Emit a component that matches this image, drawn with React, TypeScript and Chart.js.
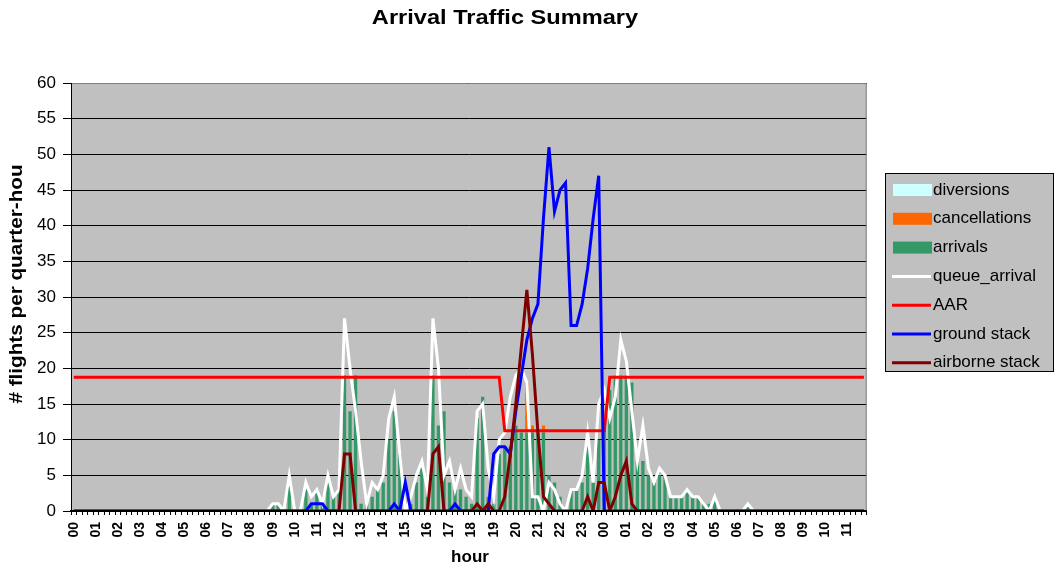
import React, { useEffect, useRef } from 'react';
import { Chart, registerables } from 'chart.js';

Chart.register(...registerables);

const hourLabels = [
  '00', '01', '02', '03', '04', '05', '06', '07', '08', '09', '10', '11',
  '12', '13', '14', '15', '16', '17', '18', '19', '20', '21', '22', '23',
  '00', '01', '02', '03', '04', '05', '06', '07', '08', '09', '10', '11',
];
const quarterLabels = ['00', '15', '30', '45'];
const categories = hourLabels.flatMap((h) => quarterLabels.map((q) => `${h}:${q}`));

const arrivals = [
  0, 0, 0, 0, 0, 0, 0, 0, 0, 0, 0, 0,
  0, 0, 0, 0, 0, 0, 0, 0, 0, 0, 0, 0,
  0, 0, 0, 0, 0, 0, 0, 0, 0, 0, 0, 0,
  1, 1, 0, 4, 0, 0, 3, 1, 3, 1, 4, 2,
  3, 19, 14, 19, 1, 1, 2, 3, 4, 10, 14, 8,
  0, 1, 4, 6, 2, 19, 12, 14, 4, 3, 3, 2,
  1, 13, 16, 2, 1, 8, 9, 9, 12, 11, 11, 11,
  11, 11, 5, 4, 2, 0, 3, 3, 4, 10, 4, 10,
  13, 17, 19, 19, 19, 18, 7, 7, 5, 4, 5, 5,
  2, 2, 2, 3, 2, 2, 1, 1, 2, 0, 0, 0,
  0, 0, 1, 0, 0, 0, 0, 0, 0, 0, 0, 0,
  0, 0, 0, 0, 0, 0, 0, 0, 0, 0, 0, 0,
];

const cancellations = [
  0, 0, 0, 0, 0, 0, 0, 0, 0, 0, 0, 0,
  0, 0, 0, 0, 0, 0, 0, 0, 0, 0, 0, 0,
  0, 0, 0, 0, 0, 0, 0, 0, 0, 0, 0, 0,
  0, 0, 0, 0, 0, 0, 0, 0, 0, 0, 0, 0,
  0, 0, 0, 0, 0, 0, 0, 0, 0, 0, 0, 0,
  0, 0, 0, 0, 0, 0, 0, 0, 0, 0, 0, 0,
  0, 0, 0, 0, 0, 0, 0, 0, 0, 0, 7, 1,
  0, 1, 0, 0, 0, 0, 0, 0, 0, 0, 0, 0,
  0, 0, 0, 0, 0, 0, 0, 0, 0, 0, 0, 0,
  0, 0, 0, 0, 0, 0, 0, 0, 0, 0, 0, 0,
  0, 0, 0, 0, 0, 0, 0, 0, 0, 0, 0, 0,
  0, 0, 0, 0, 0, 0, 0, 0, 0, 0, 0, 0,
];

const diversions = [
  0, 0, 0, 0, 0, 0, 0, 0, 0, 0, 0, 0,
  0, 0, 0, 0, 0, 0, 0, 0, 0, 0, 0, 0,
  0, 0, 0, 0, 0, 0, 0, 0, 0, 0, 0, 0,
  0, 0, 0, 0, 0, 0, 0, 0, 0, 0, 0, 0,
  0, 0, 0, 0, 0, 0, 0, 0, 0, 0, 0, 0,
  0, 0, 0, 0, 0, 0, 0, 0, 0, 0, 0, 0,
  0, 0, 0, 0, 0, 0, 0, 0, 0, 0, 0, 0,
  0, 0, 0, 0, 0, 0, 0, 0, 0, 0, 0, 0,
  0, 0, 0, 0, 0, 0, 0, 0, 0, 0, 0, 0,
  0, 0, 0, 0, 0, 0, 0, 0, 0, 0, 0, 0,
  0, 0, 0, 0, 0, 0, 0, 0, 0, 0, 0, 0,
  0, 0, 0, 0, 0, 0, 0, 0, 0, 0, 0, 0,
];

const queueArrival = [
  0, 0, 0, 0, 0, 0, 0, 0, 0, 0, 0, 0,
  0, 0, 0, 0, 0, 0, 0, 0, 0, 0, 0, 0,
  0, 0, 0, 0, 0, 0, 0, 0, 0, 0, 0, 0,
  1, 1, 0, 5, 0, 0, 4, 2, 3, 1, 5, 2,
  3, 27, 20, 14, 7, 1, 4, 3, 5, 13, 16, 8,
  0, 2, 5, 7, 3, 27, 20, 5, 7, 3, 6, 3,
  2, 14, 15, 6, 2, 10, 11, 16, 19, 20, 18, 2,
  2, 0, 4, 3, 1, 0, 3, 3, 5, 11, 4, 15,
  17, 13, 16, 24, 21, 14, 7, 12, 6, 4, 6, 5,
  2, 2, 2, 3, 2, 2, 1, 0, 2, 0, 0, 0,
  0, 0, 1, 0, 0, 0, 0, 0, 0, 0, 0, 0,
  0, 0, 0, 0, 0, 0, 0, 0, 0, 0, 0, 0,
];

const aar = [
  18.75, 18.75, 18.75, 18.75, 18.75, 18.75, 18.75, 18.75, 18.75, 18.75, 18.75, 18.75,
  18.75, 18.75, 18.75, 18.75, 18.75, 18.75, 18.75, 18.75, 18.75, 18.75, 18.75, 18.75,
  18.75, 18.75, 18.75, 18.75, 18.75, 18.75, 18.75, 18.75, 18.75, 18.75, 18.75, 18.75,
  18.75, 18.75, 18.75, 18.75, 18.75, 18.75, 18.75, 18.75, 18.75, 18.75, 18.75, 18.75,
  18.75, 18.75, 18.75, 18.75, 18.75, 18.75, 18.75, 18.75, 18.75, 18.75, 18.75, 18.75,
  18.75, 18.75, 18.75, 18.75, 18.75, 18.75, 18.75, 18.75, 18.75, 18.75, 18.75, 18.75,
  18.75, 18.75, 18.75, 18.75, 18.75, 18.75, 11.25, 11.25, 11.25, 11.25, 11.25, 11.25,
  11.25, 11.25, 11.25, 11.25, 11.25, 11.25, 11.25, 11.25, 11.25, 11.25, 11.25, 11.25,
  11.25, 18.75, 18.75, 18.75, 18.75, 18.75, 18.75, 18.75, 18.75, 18.75, 18.75, 18.75,
  18.75, 18.75, 18.75, 18.75, 18.75, 18.75, 18.75, 18.75, 18.75, 18.75, 18.75, 18.75,
  18.75, 18.75, 18.75, 18.75, 18.75, 18.75, 18.75, 18.75, 18.75, 18.75, 18.75, 18.75,
  18.75, 18.75, 18.75, 18.75, 18.75, 18.75, 18.75, 18.75, 18.75, 18.75, 18.75, 18.75,
];

const groundStack = [
  0, 0, 0, 0, 0, 0, 0, 0, 0, 0, 0, 0,
  0, 0, 0, 0, 0, 0, 0, 0, 0, 0, 0, 0,
  0, 0, 0, 0, 0, 0, 0, 0, 0, 0, 0, 0,
  0, 0, 0, 0, 0, 0, 0, 1, 1, 1, 0, 0,
  0, 0, 0, 0, 0, 0, 0, 0, 0, 0, 1, 0,
  4, 0, 0, 0, 0, 0, 0, 0, 0, 1, 0, 0,
  0, 0, 0, 0, 8, 9, 9, 8, 14, 19, 24, 27,
  29, 41, 51, 42, 45, 46, 26, 26, 29, 34, 41, 47,
  0, 0, 0, 0, 0, 0, 0, 0, 0, 0, 0, 0,
  0, 0, 0, 0, 0, 0, 0, 0, 0, 0, 0, 0,
  0, 0, 0, 0, 0, 0, 0, 0, 0, 0, 0, 0,
  0, 0, 0, 0, 0, 0, 0, 0, 0, 0, 0, 0,
];

const airborneStack = [
  0, 0, 0, 0, 0, 0, 0, 0, 0, 0, 0, 0,
  0, 0, 0, 0, 0, 0, 0, 0, 0, 0, 0, 0,
  0, 0, 0, 0, 0, 0, 0, 0, 0, 0, 0, 0,
  0, 0, 0, 0, 0, 0, 0, 0, 0, 0, 0, 0,
  0, 8, 8, 0, 0, 0, 0, 0, 0, 0, 0, 0,
  0, 0, 0, 0, 0, 8, 9, 0, 0, 0, 0, 0,
  0, 1, 0, 1, 0, 0, 2, 8, 15, 23, 31, 22,
  11, 2, 1, 0, 0, 0, 0, 0, 0, 2, 0, 4,
  4, 0, 2, 5, 7, 1, 0, 0, 0, 0, 0, 0,
  0, 0, 0, 0, 0, 0, 0, 0, 0, 0, 0, 0,
  0, 0, 0, 0, 0, 0, 0, 0, 0, 0, 0, 0,
  0, 0, 0, 0, 0, 0, 0, 0, 0, 0, 0, 0,
];

const FONT = '"Liberation Sans", Arial, sans-serif';
const legendOrder = ['diversions', 'cancellations', 'arrivals', 'queue_arrival', 'AAR', 'ground stack', 'airborne stack'];

const decorPlugin = {
  id: 'decor',
  beforeDraw(chart: any) {
    const { ctx, chartArea: a } = chart;
    ctx.save();
    ctx.fillStyle = '#ffffff';
    ctx.fillRect(0, 0, chart.width, chart.height);
    ctx.fillStyle = '#c0c0c0';
    ctx.fillRect(a.left, a.top, a.right - a.left, a.bottom - a.top);
    ctx.restore();
  },
  afterDatasetsDraw(chart: any) {
    const { ctx, chartArea: a } = chart;
    ctx.save();
    ctx.strokeStyle = '#808080';
    ctx.lineWidth = 1;
    ctx.beginPath();
    ctx.moveTo(a.left, a.top + 0.5);
    ctx.lineTo(a.right - 0.5, a.top + 0.5);
    ctx.lineTo(a.right - 0.5, a.bottom);
    ctx.stroke();
    ctx.strokeStyle = '#000000';
    ctx.lineWidth = 2;
    ctx.beginPath();
    ctx.moveTo(a.left - 1, a.bottom);
    ctx.lineTo(a.right, a.bottom);
    ctx.stroke();
    ctx.lineWidth = 1;
    ctx.beginPath();
    ctx.moveTo(a.left + 0.5, a.top);
    ctx.lineTo(a.left + 0.5, a.bottom);
    ctx.stroke();
    ctx.restore();
  },
  afterDraw(chart: any) {
    const { ctx } = chart;
    ctx.save();
    ctx.fillStyle = '#000';
    ctx.textAlign = 'center';
    ctx.textBaseline = 'middle';

    ctx.save();
    ctx.translate(505, 18);
    ctx.scale(1.18, 1);
    ctx.font = `bold 20px ${FONT}`;
    ctx.fillText('Arrival Traffic Summary', 0, 0);
    ctx.restore();

    ctx.font = `bold 17px ${FONT}`;
    ctx.fillText('hour', 470, 557);

    ctx.save();
    ctx.translate(17, 284);
    ctx.rotate(-Math.PI / 2);
    ctx.scale(1.15, 1);
    ctx.font = `bold 18px ${FONT}`;
    ctx.fillText('# flights per quarter-hou', 0, 0);
    ctx.restore();

    // legend
    const bx = 885, by = 173, bw = 168, bh = 198;
    ctx.fillStyle = '#c0c0c0';
    ctx.fillRect(bx, by, bw, bh);
    ctx.strokeStyle = '#000';
    ctx.lineWidth = 1;
    ctx.strokeRect(bx + 0.5, by + 0.5, bw, bh);
    ctx.textAlign = 'left';
    ctx.font = `17px ${FONT}`;
    legendOrder.forEach((name, i) => {
      const ds = chart.data.datasets.find((d: any) => d.label === name);
      if (!ds) return;
      const cy = by + 17 + i * 28.8;
      if (ds.type === 'line') {
        ctx.strokeStyle = ds.borderColor;
        ctx.lineWidth = 3;
        ctx.beginPath();
        ctx.moveTo(892, cy);
        ctx.lineTo(931, cy);
        ctx.stroke();
      } else {
        ctx.fillStyle = ds.backgroundColor;
        ctx.fillRect(893, cy - 6, 39, 12);
      }
      ctx.fillStyle = '#000';
      ctx.fillText(name, 933, cy);
    });
    ctx.restore();
  },
};

export default function App() {
  const ref = useRef<HTMLCanvasElement | null>(null);
  useEffect(() => {
    if (!ref.current) return;
    const lineCommon = {
      type: 'line' as const,
      pointRadius: 0,
      borderWidth: 3,
      tension: 0,
      fill: false,
      clip: 0,
    };
    const chart = new Chart(ref.current, {
      type: 'bar',
      data: {
        labels: categories,
        datasets: [
          { label: 'arrivals', data: arrivals, backgroundColor: '#339966', stack: 'bars', order: 10, borderWidth: 0 },
          { label: 'cancellations', data: cancellations, backgroundColor: '#ff6600', stack: 'bars', order: 11, borderWidth: 0 },
          { label: 'diversions', data: diversions, backgroundColor: '#ccffff', stack: 'bars', order: 12, borderWidth: 0 },
          { ...lineCommon, label: 'queue_arrival', data: queueArrival, borderColor: '#ffffff', stack: 'q', order: 4 },
          { ...lineCommon, label: 'AAR', data: aar, borderColor: '#ff0000', stack: 'aar', order: 3 },
          { ...lineCommon, label: 'ground stack', data: groundStack, borderColor: '#0000ff', stack: 'g', order: 2 },
          { ...lineCommon, label: 'airborne stack', data: airborneStack, borderColor: '#800000', stack: 'a', order: 1 },
        ] as any,
      },
      options: {
        animation: false,
        responsive: false,
        maintainAspectRatio: false,
        devicePixelRatio: 1,
        layout: { padding: { left: 0, right: 191.3, top: 83, bottom: 0 } },
        datasets: { bar: { barPercentage: 0.6, categoryPercentage: 1.0 } },
        plugins: {
          legend: { display: false },
          title: { display: false },
          tooltip: { enabled: false },
        },
        scales: {
          x: {
            stacked: true,
            afterFit: (s: any) => { s.height = 60; },
            grid: {
              display: true,
              drawOnChartArea: false,
              drawTicks: true,
              tickLength: 4,
              color: '#000',
              offset: true,
            },
            border: { display: true, color: '#000', width: 1 },
            ticks: {
              autoSkip: false,
              maxRotation: 90,
              minRotation: 90,
              padding: 7,
              color: '#000',
              font: { family: FONT, size: 14, weight: 'bold' },
              callback: (_v: any, i: number) => (i % 4 === 0 ? hourLabels[i / 4] : ''),
            },
          },
          y: {
            stacked: true,
            min: 0,
            max: 60,
            afterFit: (s: any) => { s.width = 71; },
            grid: { color: '#000', lineWidth: 1, tickLength: 8, drawTicks: true },
            border: { display: true, color: '#000', width: 1 },
            ticks: {
              stepSize: 5,
              padding: 7,
              color: '#000',
              font: { family: FONT, size: 17 },
            },
          },
        },
      },
      plugins: [decorPlugin],
    } as any);
    return () => chart.destroy();
  }, []);

  return (
    <div style={{ position: 'fixed', left: 0, top: 0, width: 1058, height: 571, background: '#fff' }}>
      <canvas ref={ref} width={1058} height={571} style={{ width: 1058, height: 571, display: 'block' }} />
    </div>
  );
}
